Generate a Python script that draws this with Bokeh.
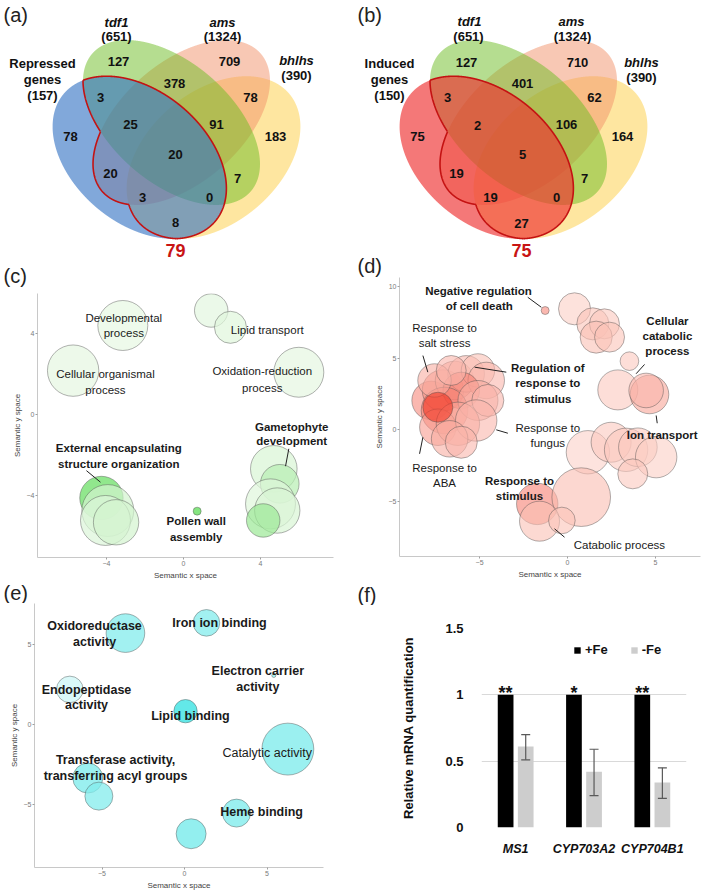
import numpy as np
from bokeh.plotting import figure
from bokeh.models import (Range1d, FactorRange, ColumnDataSource, LabelSet, Legend,
                          LegendItem, FixedTicker, Whisker, Spacer)
from bokeh.transform import dodge, linear_cmap
from bokeh.layouts import row, column
from bokeh.embed import file_html
from bokeh.resources import INLINE
from bokeh.core.properties import value

FONT = "Liberation Sans"

# ======================= DATA =======================
# (a)/(b) four-set Venn diagrams
venn_sets = ["tdf1", "ams", "bhlhs"]
venn_set_sizes = [651, 1324, 390]
venn_regions = ["G", "O", "Y", "B", "GO", "OY", "BG", "BGO", "GOY", "BGOY", "BO", "GY", "BOY", "BGY", "BY"]
repressed_counts = [127, 709, 183, 78, 378, 78, 3, 25, 91, 20, 20, 7, 3, 0, 8]
induced_counts = [127, 710, 164, 75, 401, 62, 3, 2, 106, 5, 19, 7, 19, 0, 27]
repressed_total = 157
induced_total = 150

# (c) REVIGO biological process, repressed genes
c_x = [-3.15, -5.73, 1.44, 2.44, 5.99, -4.26, -3.93, -4.05, -3.50, 0.71, 4.69, 5.00, 4.52, 4.87, 4.14]
c_y = [4.40, 2.17, 5.14, 4.31, 2.09, -4.12, -4.74, -5.23, -5.32, -4.77, -2.68, -3.42, -4.41, -4.74, -5.23]
c_logsize = [3.57, 3.67, 2.39, 2.29, 3.57, 3.10, 3.71, 3.57, 3.24, 0.57, 3.33, 2.76, 3.57, 3.24, 2.39]
c_value = [0.04, 0.05, 0.06, 0.08, 0.05, 0.75, 0.15, 0.10, 0.15, 0.85, 0.12, 0.30, 0.08, 0.12, 0.45]

# (d) REVIGO biological process, induced genes
d_x = [-1.27, 0.40, 1.44, 2.10, 1.63, 2.39, 3.52, 2.86, 4.66, 4.47, 1.16, 2.48, 3.33, 4.00, 5.04, 3.71,
       -1.72, 0.78, -1.59, -0.32, -7.75, -7.08, -6.42, -5.76, -5.09, -4.62, -6.04, -6.99, -5.09, -4.53,
       -7.37, -6.23, -5.19, -6.70, -6.04, -7.56, -6.61, -7.37]
d_y = [8.32, 8.44, 7.39, 7.39, 6.46, 6.46, 4.78, 2.77, 2.45, 2.73, -1.59, -0.89, -1.42, -1.24, -1.93, -3.10,
       -5.20, -4.73, -6.41, -6.36, 2.03, 2.73, 3.43, 3.89, 4.13, 3.43, 2.73, 1.33, 2.03, 2.03,
       0.16, 0.40, 0.63, -0.65, -0.89, 3.43, 4.13, 1.56]
d_logsize = [0.57, 2.29, 2.29, 2.14, 2.29, 2.14, 1.33, 2.86, 2.76, 2.47, 3.10, 2.86, 3.10, 2.76, 2.96, 2.14,
             2.96, 4.19, 2.86, 1.90, 2.76, 2.96, 2.76, 2.61, 2.39, 2.61, 2.61, 3.33, 2.86, 2.29,
             2.61, 3.10, 2.96, 2.61, 2.29, 2.39, 2.14, 2.14]
d_value = [0.50, 0.12, 0.18, 0.15, 0.20, 0.18, 0.15, 0.15, 0.35, 0.25, 0.10, 0.15, 0.15, 0.15, 0.12, 0.15,
           0.55, 0.22, 0.20, 0.18, 0.50, 0.45, 0.35, 0.25, 0.20, 0.25, 0.55, 0.55, 0.30, 0.25,
           0.40, 0.35, 0.25, 0.30, 0.25, 0.30, 0.25, 0.95]

# (e) REVIGO molecular function
e_x = [-3.58, 1.33, 5.41, -6.95, 0.06, 6.26, -5.86, -5.19, 3.15, 0.40]
e_y = [5.71, 6.35, 3.06, 2.19, 0.83, -1.54, -3.35, -4.48, -5.54, -6.83]
e_logsize = [2.76, 1.90, 0.29, 1.90, 1.67, 3.71, 2.14, 2.00, 2.00, 2.14]
e_value = [0.45, 0.45, 0.40, 0.10, 0.85, 0.50, 0.50, 0.45, 0.50, 0.55]

# (f) qRT-PCR
genes = ["MS1", "CYP703A2", "CYP704B1"]
fe_plus = [1.0, 1.0, 1.0]
fe_minus = [0.61, 0.42, 0.34]
fe_minus_low = [0.51, 0.24, 0.22]
fe_minus_high = [0.70, 0.59, 0.45]
significance = ["**", "*", "**"]

# ======================= HELPERS =======================
SIZE_PX = 14.0


def lerp_palette(c0, c1, n=256):
    a = np.array([int(c0[i:i + 2], 16) for i in (1, 3, 5)], float)
    b = np.array([int(c1[i:i + 2], 16) for i in (1, 3, 5)], float)
    return ["#%02x%02x%02x" % tuple(np.round(a + (b - a) * t).astype(int)) for t in np.linspace(0, 1, n)]


def ellipse_xy(e, n=2400):
    cx, cy, a, b, ang = e
    t = np.linspace(0, 2 * np.pi, n, endpoint=False)
    th = np.radians(ang)
    return (cx + a * np.cos(t) * np.cos(th) - b * np.sin(t) * np.sin(th),
            cy + a * np.cos(t) * np.sin(th) + b * np.sin(t) * np.cos(th))


def inside(x, y, e):
    cx, cy, a, b, ang = e
    th = np.radians(ang)
    dx, dy = x - cx, y - cy
    u = dx * np.cos(th) + dy * np.sin(th)
    v = -dx * np.sin(th) + dy * np.cos(th)
    return (u / a) ** 2 + (v / b) ** 2 < 1.0


def outline(ells):
    xs, ys = [], []
    for k in ["B", "G", "O", "Y"]:
        x, y = ellipse_xy(ells[k])
        if k == "B":
            m = np.zeros(len(x), bool)
            for o in ("G", "O", "Y"):
                m |= inside(x, y, ells[o])
        else:
            m = inside(x, y, ells["B"])
            for o in ("G", "O", "Y"):
                if o != k:
                    m &= ~inside(x, y, ells[o])
        if not m.any():
            continue
        k0 = int(np.argmin(m))
        x, y, m = np.roll(x, -k0), np.roll(y, -k0), np.roll(m, -k0)
        xs.extend(np.where(m, x, np.nan).tolist() + [np.nan])
        ys.extend(np.where(m, y, np.nan).tolist() + [np.nan])
    return np.array(xs), np.array(ys)


# ellipse geometry (layout, in panel pixels, y downward)
ELL = {"B": (139, 157, 99, 66, 40), "G": (171, 122, 105, 60, 41),
       "O": (181, 122, 105, 60, 139), "Y": (213, 157, 99, 66, 140)}


def blank_fig(width, height, x0, y0):
    p = figure(width=width, height=height, x_range=Range1d(x0, x0 + width),
               y_range=Range1d(y0 + height, y0), output_backend="svg", toolbar_location=None,
               x_axis_location=None, y_axis_location=None, min_border=0)
    p.grid.visible = False
    p.outline_line_color = None
    return p


def letter_text(p, letters):
    p.text(x=[l[1] for l in letters], y=[l[2] for l in letters], text=[l[0] for l in letters],
           text_align="left", text_baseline="top", text_font=value(FONT),
           text_font_size="20px", text_color="#222222")


def venn_panel(width, height, x0, shift, counts, total, pos, set_pos, first_name, first_color,
               first_alpha, total_pos, letters):
    p = blank_fig(width, height, x0, 0)
    ells = {k: (v[0] + shift, v[1], v[2], v[3], v[4]) for k, v in ELL.items()}
    for k, col, al in [("Y", "#fdcd41", 0.5), ("O", "#f19169", 0.5), ("G", "#6cbb22", 0.5),
                       ("B", first_color, first_alpha)]:
        x, y = ellipse_xy(ells[k])
        p.patch(x, y, fill_color=col, fill_alpha=al, line_color=None)
    ox, oy = outline(ells)
    p.line(ox, oy, line_color="#c41212", line_width=1.6)
    src = ColumnDataSource(dict(x=[pos[r][0] for r in venn_regions], y=[pos[r][1] for r in venn_regions],
                                t=[str(c) for c in counts]))
    p.text(x="x", y="y", text="t", source=src, text_align="center", text_baseline="middle",
           text_font=value(FONT), text_font_size="13px", text_font_style="bold", text_color="#111111")
    names, namestyles, sx, sy = [], [], [], []
    for i, (nm, sz) in enumerate(zip(venn_sets, venn_set_sizes)):
        (nx, ny), (zx, zy) = set_pos[i]
        names += [nm, "(%d)" % sz]
        namestyles += ["bold italic", "bold"]
        sx += [nx, zx]
        sy += [ny, zy]
    (fx, fy0) = set_pos[3]
    names += [first_name, "genes", "(%d)" % total]
    namestyles += ["bold", "bold", "bold"]
    sx += [fx, fx, fx]
    sy += [fy0, fy0 + 16, fy0 + 32]
    for st in ("bold italic", "bold"):
        idx = [i for i, s in enumerate(namestyles) if s == st]
        p.text(x=[sx[i] for i in idx], y=[sy[i] for i in idx], text=[names[i] for i in idx],
               text_align="center", text_baseline="middle", text_font=value(FONT),
               text_font_size="13px", text_font_style=st, text_color="#111111")
    inter = sum(c for r, c in zip(venn_regions, counts) if "B" in r and r != "B")
    p.text(x=[total_pos[0]], y=[total_pos[1]], text=[str(inter)], text_align="center",
           text_baseline="middle", text_font=value(FONT), text_font_size="18px",
           text_font_style="bold", text_color="#c81414")
    letter_text(p, letters)
    return p


def add_labels(p, items, style, size):
    if not items:
        return
    src = ColumnDataSource(dict(x=[i[1] for i in items], y=[i[2] for i in items], t=[i[0] for i in items]))
    p.add_layout(LabelSet(x="x", y="y", text="t", source=src, text_align="center",
                          text_baseline="middle", text_font=value(FONT), text_font_size=size,
                          text_font_style=style, text_color="#1a1a1a"))


def bubble_panel(width, height, borders, xr, yr, xt, yt, bx, by, bsize, bval, palette, alpha,
                 bold_labels, normal_labels, leaders, font_px):
    p = figure(width=width, height=height, x_range=Range1d(*xr), y_range=Range1d(*yr),
               output_backend="svg", toolbar_location=None,
               min_border_left=borders[0], min_border_right=borders[1],
               min_border_top=borders[2], min_border_bottom=borders[3],
               x_axis_label="Semantic x space", y_axis_label="Semantic y space")
    p.xaxis.ticker = FixedTicker(ticks=xt)
    p.yaxis.ticker = FixedTicker(ticks=yt)
    for ax in (p.xaxis[0], p.yaxis[0]):
        ax.axis_line_color = "#c8c8c8"
        ax.major_tick_line_color = "#a0a0a0"
        ax.major_tick_out = 2
        ax.major_tick_in = 0
        ax.minor_tick_line_color = None
        ax.major_label_text_font = FONT
        ax.major_label_text_font_size = "7px"
        ax.major_label_text_color = "#7a7a7a"
        ax.major_label_standoff = 1
        ax.axis_label_text_font = FONT
        ax.axis_label_text_font_size = "8px"
        ax.axis_label_text_font_style = "normal"
        ax.axis_label_text_color = "#444444"
        ax.axis_label_standoff = 2
    p.grid.visible = False
    p.outline_line_color = None
    src = ColumnDataSource(dict(x=bx, y=by, d=[SIZE_PX * s for s in bsize], v=bval))
    p.scatter("x", "y", size="d", source=src, fill_color=linear_cmap("v", palette, 0, 1),
              fill_alpha=alpha, line_color="#4d4d4d", line_alpha=0.55, line_width=0.8)
    if leaders:
        p.segment(x0=[l[0] for l in leaders], y0=[l[1] for l in leaders],
                  x1=[l[2] for l in leaders], y1=[l[3] for l in leaders],
                  line_color="#222222", line_width=1)
    add_labels(p, bold_labels, "bold", font_px)
    add_labels(p, normal_labels, "normal", font_px)
    return p


# ======================= PANELS =======================
pos_a = {"G": (118, 61), "O": (229, 61), "Y": (275, 136), "B": (70, 136), "GO": (174, 83),
         "OY": (250, 97), "BG": (100, 97), "BGO": (130, 124), "GOY": (216, 124), "BGOY": (175, 154),
         "BO": (110, 173), "GY": (237, 178), "BOY": (142, 197), "BGY": (209, 197), "BY": (175, 222)}
pos_b = {"G": (112, 62), "O": (223, 62), "Y": (268, 136), "B": (63, 136), "GO": (168, 83),
         "OY": (240, 97), "BG": (93, 97), "BGO": (123, 125), "GOY": (212, 124), "BGOY": (168, 154),
         "BO": (102, 173), "GY": (230, 178), "BOY": (136, 197), "BGY": (202, 197), "BY": (167, 223)}
set_pos_a = [((116, 22), (116, 36)), ((222, 22), (222, 36)), ((296, 60), (296, 75)), (42, 63)]
set_pos_b = [((115, 21), (114, 36)), ((217, 21), (218, 36)), ((287, 62), (287, 77)), (35, 63)]

# left column: (a) Venn + "(c)" letter, canvas y 0..290
pa = venn_panel(354, 290, 0, 0, repressed_counts, repressed_total, pos_a, set_pos_a, "Repressed",
                "#3472c4", 0.62, (175, 250), [("(a)", 3, 3), ("(c)", 3, 264)])
# right column: (b) Venn + "(d)" letter, canvas y 0..277
pb = venn_panel(355, 277, 0, -7, induced_counts, induced_total, pos_b, set_pos_b, "Induced",
                "#ee2f2f", 0.65, (167, 250), [("(b)", 3, 3), ("(d)", 3, 254)])

green_pal = lerp_palette("#eef9ea", "#36d42e")
red_pal = lerp_palette("#fde3da", "#f0301e")
cyan_pal = lerp_palette("#e2fafa", "#10dcdc")

pc = bubble_panel(
    352, 293, (36, 20, 3, 26), (-7.58, 7.79), (-7.06, 5.98), [-4, 0, 4], [-4, 0, 4],
    c_x, c_y, c_logsize, c_value, green_pal, 0.7,
    [("Gametophyte", 5.62, -0.59), ("development", 5.62, -1.32),
     ("External encapsulating", -3.36, -1.66), ("structure organization", -3.36, -2.43),
     ("Pollen wall", 0.66, -5.28), ("assembly", 0.66, -6.06)],
    [("Developmental", -3.10, 4.78), ("process", -3.10, 4.01), ("Lipid transport", 4.35, 4.18),
     ("Cellular organismal", -4.05, 1.98), ("process", -4.05, 1.22),
     ("Oxidation-reduction", 4.09, 2.14), ("process", 4.09, 1.32)],
    [(-5.04, -2.77, -4.31, -3.34), (5.47, -1.69, 5.30, -2.55)],
    "11.5px")

pd_ = bubble_panel(
    353, 306, (44, 8, 0, 27), (-9.55, 7.56), (-8.88, 10.63), [-5, 0, 5], [-5, 0, 5, 10],
    d_x, d_y, d_logsize, d_value, red_pal, 0.6,
    [("Negative regulation", -5.06, 9.72), ("of cell death", -5.02, 8.67),
     ("Cellular", 5.68, 7.62), ("catabolic", 5.68, 6.57), ("process", 5.68, 5.48),
     ("Regulation of", -1.12, 4.31), ("response to", -1.12, 3.24), ("stimulus", -1.12, 2.15),
     ("Ion transport", 5.38, -0.35), ("Response to", -2.73, -3.62), ("stimulus", -2.73, -4.66)],
    [("Response to", -6.99, 7.11), ("salt stress", -6.99, 6.03), ("Response to", -1.12, 0.12),
     ("fungus", -1.12, -0.96), ("Response to", -6.99, -2.68), ("ABA", -6.99, -3.76),
     ("Catabolic process", 2.95, -8.11)],
    [(-2.26, 9.25, -1.49, 8.55), (-8.22, 5.17, -7.94, 4.01), (4.38, 4.55, 3.90, 3.90),
     (-3.48, 4.01, -5.28, 4.36), (-3.39, -0.26, -4.05, -0.02), (5.04, 0.98, 5.10, 0.44),
     (-8.41, -1.70, -8.22, -0.54), (-0.17, -7.53, -0.74, -6.94)],
    "11.5px")

strip_e = blank_fig(354, 20, 0, 583)
letter_text(strip_e, [("(e)", 3, 581)])
strip_f = blank_fig(355, 22, 0, 583)
letter_text(strip_f, [("(f)", 3, 583)])

pe = bubble_panel(
    350, 289, (32, 29, 0, 25), (-9.09, 8.42), (-8.94, 7.56), [-5, 0, 5], [-5, 0, 5],
    e_x, e_y, e_logsize, e_value, cyan_pal, 0.75,
    [("Oxidoreductase", -5.45, 6.13), ("activity", -5.45, 5.14), ("Iron ion binding", 2.12, 6.36),
     ("Electron carrier", 4.44, 3.33), ("activity", 4.44, 2.33), ("Endopeptidase", -5.94, 2.17),
     ("activity", -5.94, 1.19), ("Lipid binding", 0.36, 0.50),
     ("Transferase activity,", -4.18, -2.21), ("transferring acyl groups", -4.18, -3.19),
     ("Heme binding", 4.67, -5.48)],
    [("Catalytic activity", 5.01, -1.77)],
    [], "12.5px")

# (f) bar chart
pf = figure(width=351, height=286, x_range=FactorRange(factors=genes), y_range=Range1d(0, 1.5),
            output_backend="svg", toolbar_location=None, min_border_left=125, min_border_right=21,
            min_border_top=23, min_border_bottom=64, y_axis_label="Relative mRNA quantification")
fsrc = ColumnDataSource(dict(gene=genes, plus=fe_plus, minus=fe_minus, lo=fe_minus_low,
                             hi=fe_minus_high, sig=significance,
                             star_y=[v + 0.015 for v in fe_plus]))
OFF = 0.147
r1 = pf.vbar(x=dodge("gene", -OFF, range=pf.x_range), top="plus", width=0.23, source=fsrc,
             fill_color="#000000", line_color=None)
r2 = pf.vbar(x=dodge("gene", OFF, range=pf.x_range), top="minus", width=0.23, source=fsrc,
             fill_color="#cdcdcd", line_color=None)
wh = Whisker(source=fsrc, base=dodge("gene", OFF, range=pf.x_range), upper="hi", lower="lo",
             line_color="#595959", line_width=1.2, level="annotation")
for hd in (wh.upper_head, wh.lower_head):
    hd.line_color = "#595959"
    hd.size = 9
    hd.line_width = 1.2
pf.add_layout(wh)
pf.text(x=dodge("gene", -OFF, range=pf.x_range), y="star_y", text="sig", source=fsrc,
        text_align="center", text_baseline="alphabetic", text_font=value(FONT),
        text_font_size="18px", text_font_style="bold", text_color="#111111")
leg = Legend(items=[LegendItem(label="+Fe", renderers=[r1]), LegendItem(label="-Fe", renderers=[r2])],
             orientation="horizontal", location=(92, 170), glyph_width=8, glyph_height=8,
             label_text_font=FONT, label_text_font_size="13px", label_text_font_style="bold",
             label_text_color="#111111", label_standoff=4, spacing=22, padding=0, margin=0,
             label_height=14, border_line_color=None, background_fill_alpha=0)
pf.add_layout(leg)
pf.yaxis.ticker = FixedTicker(ticks=[0, 0.5, 1, 1.5])
pf.yaxis.major_label_overrides = {0: "0", 0.5: "0.5", 1: "1", 1.5: "1.5"}
pf.yaxis.axis_line_color = None
pf.yaxis.major_tick_line_color = None
pf.yaxis.minor_tick_line_color = None
pf.yaxis.major_label_text_font = FONT
pf.yaxis.major_label_text_font_size = "13px"
pf.yaxis.major_label_text_font_style = "bold"
pf.yaxis.major_label_text_color = "#111111"
pf.yaxis.major_label_standoff = 12
pf.yaxis.axis_label_text_font = FONT
pf.yaxis.axis_label_text_font_size = "13px"
pf.yaxis.axis_label_text_font_style = "bold"
pf.yaxis.axis_label_text_color = "#111111"
pf.yaxis.axis_label_standoff = 26
pf.xaxis.axis_line_color = None
pf.xaxis.major_tick_line_color = None
pf.xaxis.major_label_text_font = FONT
pf.xaxis.major_label_text_font_size = "12.5px"
pf.xaxis.major_label_text_font_style = "bold italic"
pf.xaxis.major_label_text_color = "#111111"
pf.xaxis.major_label_standoff = 8
pf.xgrid.visible = False
pf.ygrid.grid_line_color = "#d9d9d9"
pf.ygrid.grid_line_width = 1
pf.outline_line_color = None

left = column(pa, row(Spacer(width=1, height=293), pc), strip_e, row(Spacer(width=2, height=289), pe))
right = column(pb, row(Spacer(width=1, height=306), pd_), strip_f, row(Spacer(width=2, height=286), pf))
layout = row(left, right)
open("out.html", "w").write(file_html(layout, INLINE))
